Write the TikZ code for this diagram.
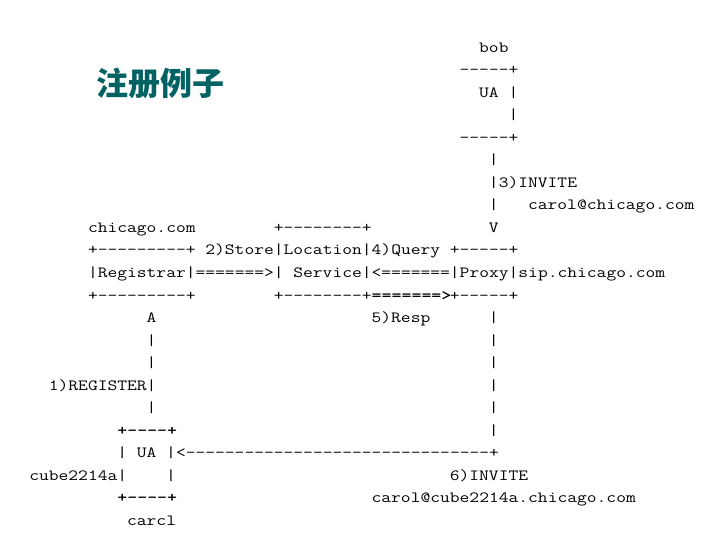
\documentclass[tikz,border=0pt]{standalone}
\usepackage{graphicx}
\usepackage{fontspec}
\newfontfamily\cjk{Noto Sans CJK SC}
\definecolor{titleteal}{RGB}{0,98,98}
\tikzset{
  ascii/.style={anchor=base west, inner sep=0pt, outer sep=0pt,
    font=\ttfamily\fontsize{19.0bp}{22bp}\selectfont, text=black},
  titletext/.style={anchor=center, inner sep=0pt,
    font=\cjk\bfseries\fontsize{32bp}{36bp}\selectfont, text=titleteal}
}
\newcommand\seg[4]{\node[ascii] (#1) at ({88+(#2)*9.78},{52.5+(#3)*22.5}) {\scalebox{1}[0.82]{#4}};}
\begin{document}
\begin{tikzpicture}[x=1bp,y=-1bp]
\useasboundingbox (0,0) rectangle (720,540);
\fill[white] (0,0) rectangle (720,540);
\node[titletext] (title) at (160.5,83) {注册例子};
% bob UA
\seg{bob}{40}{0}{bob}
\seg{bobtop}{38}{1}{-----+}
\seg{bobua}{40}{2}{UA}
\seg{bobr1}{43}{2}{|}
\seg{bobr2}{43}{3}{|}
\seg{bobbot}{38}{4}{-----+}
\seg{inv1}{41}{5}{|}
\seg{inv2}{41}{6}{|3)INVITE}
\seg{inv3}{41}{7}{|}
\seg{invto}{45}{7}{carol@chicago.com}
% servers
\seg{chi}{0}{8}{chicago.com}
\seg{loctop}{19}{8}{+--------+}
\seg{invV}{41}{8}{V}
\seg{regtop}{0}{9}{+---------+}
\seg{store}{12}{9}{2)Store|Location|4)Query}
\seg{proxtop}{37}{9}{+-----+}
\seg{reg}{0}{10}{|Registrar|=======>|}
\seg{svc}{21}{10}{Service|<=======|Proxy|sip.chicago.com}
\seg{regbot}{0}{11}{+---------+}
\seg{locbot}{19}{11}{+--------+}
\seg{resparrow}{29}{11}{\bfseries =======>}
\seg{proxbot}{37}{11}{+-----+}
% left register path
\seg{upA}{6}{12}{A}
\seg{resp}{29}{12}{5)Resp}
\seg{r12}{41}{12}{|}
\seg{l13}{6}{13}{|}
\seg{r13}{41}{13}{|}
\seg{l14}{6}{14}{|}
\seg{r14}{41}{14}{|}
\seg{register}{-4}{15}{1)REGISTER|}
\seg{r15}{41}{15}{|}
\seg{l16}{6}{16}{|}
\seg{r16}{41}{16}{|}
\seg{cartop}{3}{17}{\bfseries +----+}
\seg{r17}{41}{17}{|}
% carol UA
\seg{carl1}{3}{18}{|}
\seg{carua}{5}{18}{UA}
\seg{carr1}{8}{18}{|<-------------------------------+}
\seg{cube}{-6}{19}{cube2214a|}
\seg{carr2}{8}{19}{|}
\seg{inv6}{37}{19}{6)INVITE}
\seg{carbot}{3}{20}{\bfseries +----+}
\seg{inv6to}{29}{20}{carol@cube2214a.chicago.com}
\seg{carcl}{4}{21}{carcl}
\end{tikzpicture}
\end{document}
